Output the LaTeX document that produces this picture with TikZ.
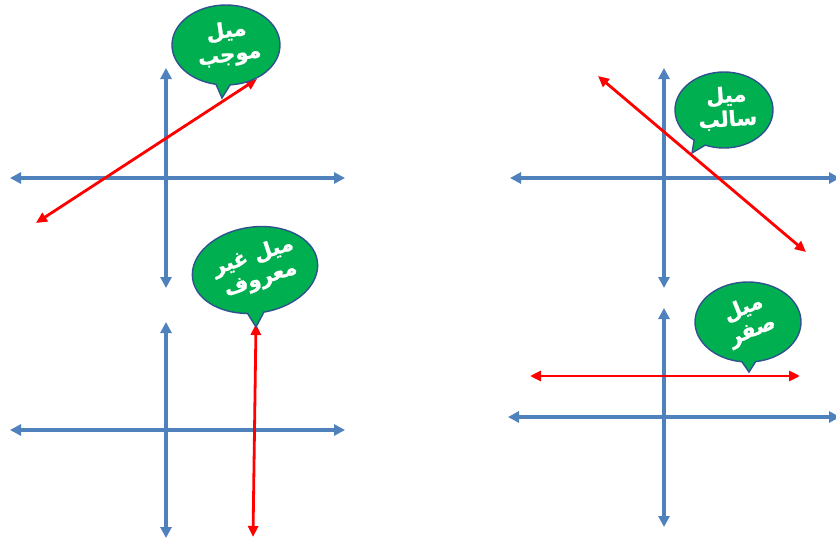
\documentclass[tikz,border=0pt]{standalone}
\usepackage{fontspec}
\newfontfamily\arabicfont[Script=Arabic,FakeBold=1.2]{DejaVu Sans Bold}
\TeXXeTstate=1
\usetikzlibrary{arrows.meta,shapes.callouts}
\definecolor{axisblue}{HTML}{4F81BD}
\definecolor{bubblegreen}{HTML}{00B050}
\definecolor{bubbleedge}{HTML}{2F528F}
\tikzset{
  axisline/.style={axisblue, line width=3.2pt, {Triangle[length=11pt,width=11pt]}-{Triangle[length=11pt,width=11pt]}},
  slopeline/.style={red, line width=2.8pt, {Triangle[length=11pt,width=10pt]}-{Triangle[length=11pt,width=10pt]}},
  bubble/.style={ellipse callout, draw=bubbleedge, line width=1.4pt, fill=bubblegreen, inner sep=0pt},
  bubbletext/.style={text=white, inner sep=0pt, align=center,
    font=\arabicfont\fontsize{21}{24}\selectfont}
}
\begin{document}
\begin{tikzpicture}[x=1pt,y=-1pt]
\useasboundingbox (0,0) rectangle (836,538);
% top-left
\coordinate (a1l) at (10,178); \coordinate (a1r) at (345,178);
\coordinate (a1t) at (166,68); \coordinate (a1b) at (166,288);
\draw[axisline] (a1l) -- (a1r);
\draw[axisline] (a1t) -- (a1b);
\coordinate (r1a) at (36,223); \coordinate (r1b) at (257,79);
\draw[slopeline] (r1a) -- (r1b);
\node[bubble, minimum width=108pt, minimum height=80pt, callout absolute pointer={(222,98)}] (b1) at (226,45) {};
\node[bubbletext, rotate=8] (t1) at (228,44) {\beginR ميل\endR\\\beginR موجب\endR};
% top-right
\coordinate (a2l) at (510,178); \coordinate (a2r) at (840,178);
\coordinate (a2t) at (664,68); \coordinate (a2b) at (664,288);
\draw[axisline] (a2l) -- (a2r);
\draw[axisline] (a2t) -- (a2b);
\coordinate (r2a) at (598,76); \coordinate (r2b) at (806,252);
\draw[slopeline] (r2a) -- (r2b);
\node[bubble, minimum width=98pt, minimum height=76pt, callout absolute pointer={(692,153)}] (b2) at (724,110) {};
\node[bubbletext, rotate=4] (t2) at (727,108) {\beginR ميل\endR\\\beginR سالب\endR};
% bottom-left
\coordinate (a3l) at (10,430); \coordinate (a3r) at (345,430);
\coordinate (a3t) at (166,322); \coordinate (a3b) at (166,538);
\draw[axisline] (a3l) -- (a3r);
\draw[axisline] (a3t) -- (a3b);
\coordinate (r3a) at (256,324); \coordinate (r3b) at (253,537);
\draw[slopeline] (r3a) -- (r3b);
\node[bubble, minimum width=126pt, minimum height=86pt, callout absolute pointer={(256,327)}, rotate=8] (b3) at (255,270) {};
\node[bubbletext, rotate=18] (t3) at (257,268) {\beginR ميل غير\endR\\\beginR معروف\endR};
% bottom-right
\coordinate (a4l) at (508,417); \coordinate (a4r) at (840,417);
\coordinate (a4t) at (664,308); \coordinate (a4b) at (664,527);
\draw[axisline] (a4l) -- (a4r);
\draw[axisline] (a4t) -- (a4b);
\coordinate (r4a) at (530,376); \coordinate (r4b) at (800,376);
\draw[slopeline] (r4a) -- (r4b);
\node[bubble, minimum width=106pt, minimum height=80pt, callout absolute pointer={(749,372)}] (b4) at (748,322) {};
\node[bubbletext, rotate=22] (t4) at (748,320) {\beginR ميل\endR\\\beginR صفر\endR};
\end{tikzpicture}
\end{document}
